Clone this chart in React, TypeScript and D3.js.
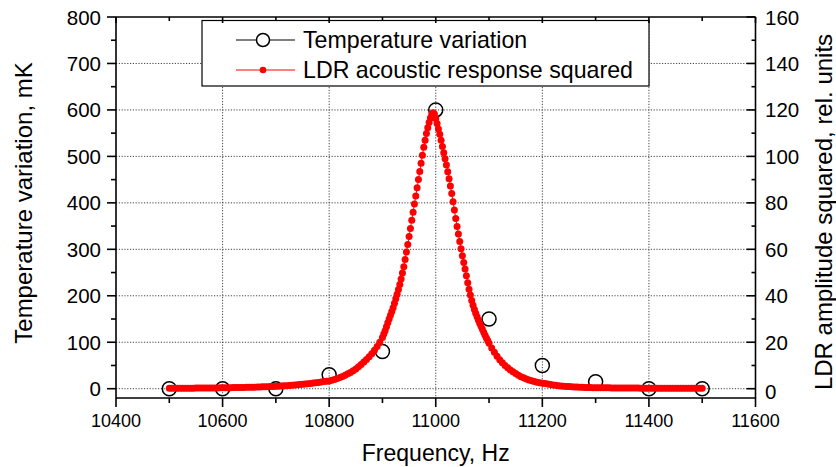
import React from 'react';
import * as d3 from 'd3';

// ---------- data ----------
const tempFreq = [10500, 10600, 10700, 10800, 10900, 11000, 11100, 11200, 11300, 11400, 11500];
const tempValues = [0, 0, 0, 30, 80, 600, 150, 50, 15, 0, 0];

// LDR response squared (rel. units), sampled on segments of the frequency grid
const ldrTailLeftFreq = d3.range(10500, 10800, 5);
const ldrTailLeft = [
  0.2, 0.2, 0.2, 0.2, 0.2, 0.2, 0.2, 0.22, 0.24, 0.25,
  0.26, 0.27, 0.28, 0.29, 0.3, 0.31, 0.32, 0.33, 0.35, 0.37,
  0.4, 0.41, 0.43, 0.45, 0.47, 0.49, 0.51, 0.53, 0.56, 0.59,
  0.62, 0.65, 0.68, 0.72, 0.76, 0.8, 0.84, 0.88, 0.93, 0.98,
  1.03, 1.09, 1.15, 1.22, 1.3, 1.39, 1.48, 1.58, 1.68, 1.79,
  1.9, 2.02, 2.14, 2.27, 2.41, 2.56, 2.72, 2.89, 3.06, 3.2,
];
const ldrRiseLeftFreq = d3.range(10800, 10900, 5);
const ldrRiseLeft = [
  3.3, 3.6, 4.0, 4.4, 4.8, 5.3, 5.8, 6.4, 7.0, 7.7,
  8.5, 9.4, 10.4, 11.5, 12.6, 13.8, 15.1, 16.6, 18.2, 20.0,
];
const ldrPeakFreq = d3.range(10900, 11100, 2.5);
const ldrPeak = [
  22.0, 23.5, 25.0, 26.7, 28.4, 30.0, 31.6, 33.2, 34.9, 36.8,
  38.7, 40.7, 42.7, 44.9, 47.2, 49.8, 52.5, 55.6, 58.8, 62.1,
  65.5, 69.0, 72.5, 76.0, 79.5, 83.0, 86.5, 90.0, 93.5, 97.0,
  100.5, 103.9, 107.0, 109.8, 112.3, 114.6, 116.5, 118.0, 118.8, 118.2,
  116.3, 114.2, 111.8, 109.5, 107.0, 104.3, 101.6, 99.0, 96.3, 93.4,
  90.4, 87.3, 84.0, 80.5, 76.9, 73.3, 69.8, 66.6, 63.4, 60.2,
  57.2, 54.3, 51.5, 48.6, 45.6, 42.8, 40.3, 38.0, 35.9, 34.1,
  32.5, 31.0, 29.6, 28.2, 26.9, 25.6, 24.3, 23.0, 21.8, 20.7,
];
const ldrFallRightFreq = d3.range(11100, 11200, 5);
const ldrFallRight = [
  19.6, 17.5, 15.7, 14.0, 12.5, 11.2, 10.0, 9.0, 8.1, 7.3,
  6.5, 5.8, 5.2, 4.7, 4.2, 3.8, 3.4, 3.1, 2.8, 2.6,
];
const ldrTailRightFreq = d3.range(11200, 11500.1, 5);
const ldrTailRight = [
  2.4, 2.2, 2.0, 1.8, 1.62, 1.46, 1.32, 1.2, 1.08, 0.98,
  0.9, 0.83, 0.76, 0.7, 0.65, 0.6, 0.56, 0.52, 0.49, 0.46,
  0.44, 0.42, 0.4, 0.38, 0.37, 0.36, 0.35, 0.34, 0.33, 0.32,
  0.31, 0.3, 0.29, 0.28, 0.27, 0.26, 0.26, 0.25, 0.25, 0.24,
  0.24, 0.23, 0.23, 0.22, 0.22, 0.22, 0.21, 0.21, 0.21, 0.2,
  0.2, 0.2, 0.2, 0.2, 0.2, 0.2, 0.2, 0.2, 0.2, 0.2,
  0.2,
];

const xTicks = [10400, 10600, 10800, 11000, 11200, 11400, 11600];
const xMinorTicks = [10500, 10700, 10900, 11100, 11300, 11500];
const yLeftTicks = [0, 100, 200, 300, 400, 500, 600, 700, 800];
const yLeftMinor = [50, 150, 250, 350, 450, 550, 650, 750];
const yRightTicks = [0, 20, 40, 60, 80, 100, 120, 140, 160];
const yRightMinor = [10, 30, 50, 70, 90, 110, 130, 150];

const legendLabels = ['Temperature variation', 'LDR acoustic response squared'];
const xTitle = 'Frequency, Hz';
const yLeftTitle = 'Temperature variation, mK';
const yRightTitle = 'LDR amplitude squared, rel. units';

// ---------- layout ----------
const W = 836;
const H = 467;
const PL = 116;
const PR = 755.5;
const PT = 17;
const PB = 398;
const FONT = "'Liberation Sans', Arial, Helvetica, sans-serif";

function zip(fs: number[], vs: number[]) {
  const n = Math.min(fs.length, vs.length);
  const out: { f: number; v: number }[] = [];
  for (let i = 0; i < n; i++) out.push({ f: fs[i], v: vs[i] });
  return out;
}

export default function App() {
  const x = d3.scaleLinear().domain([10400, 11600]).range([PL, PR]);
  const yL = d3.scaleLinear().domain([-20, 800]).range([PB, PT]);
  const yR = d3.scaleLinear().domain([-4, 160]).range([PB, PT]);

  const ldr = [
    ...zip(ldrTailLeftFreq, ldrTailLeft),
    ...zip(ldrRiseLeftFreq, ldrRiseLeft),
    ...zip(ldrPeakFreq, ldrPeak),
    ...zip(ldrFallRightFreq, ldrFallRight),
    ...zip(ldrTailRightFreq, ldrTailRight),
  ];
  const temp = zip(tempFreq, tempValues);

  const ldrLine = d3
    .line<{ f: number; v: number }>()
    .x((d) => x(d.f))
    .y((d) => yR(d.v))(ldr) as string;

  const axisW = 1.6;
  const gridStyle = { stroke: '#444', strokeWidth: 1, strokeDasharray: '1.2,1.6' };

  return (
    <svg
      width={W}
      height={H}
      viewBox={`0 0 ${W} ${H}`}
      style={{ position: 'fixed', left: 0, top: 0, background: '#fff' }}
      fontFamily={FONT}
    >
      <rect x={0} y={0} width={W} height={H} fill="#fff" />

      {/* grid */}
      {xTicks
        .filter((t) => t > 10400 && t < 11600)
        .map((t) => (
          <line key={'gx' + t} x1={x(t)} x2={x(t)} y1={PT} y2={PB} {...gridStyle} />
        ))}
      {yLeftTicks
        .filter((t) => t < 800)
        .map((t) => (
          <line key={'gy' + t} x1={PL} x2={PR} y1={yL(t)} y2={yL(t)} {...gridStyle} />
        ))}

      {/* legend */}
      <g>
        <rect x={202} y={20.5} width={447} height={65.5} fill="#fff" stroke="#000" strokeWidth={1.2} />
        <line x1={236} x2={295} y1={40} y2={40} stroke="#000" strokeWidth={1} />
        <circle cx={263} cy={40} r={6.5} fill="#fff" stroke="#000" strokeWidth={1.5} />
        <text x={303} y={40} fontSize={23.2} dominantBaseline="central" fill="#000">
          {legendLabels[0]}
        </text>
        <line x1={236} x2={295} y1={70} y2={70} stroke="#ff0000" strokeWidth={1} />
        <circle cx={263} cy={70} r={3.3} fill="#ff0000" />
        <text x={303} y={70} fontSize={23.2} dominantBaseline="central" fill="#000">
          {legendLabels[1]}
        </text>
      </g>

      {/* temperature circles */}
      {temp.map((d) => (
        <circle
          key={'t' + d.f}
          cx={x(d.f)}
          cy={yL(d.v)}
          r={7}
          fill="none"
          stroke="#000"
          strokeWidth={1.5}
        />
      ))}

      {/* LDR curve */}
      <path d={ldrLine} fill="none" stroke="#ff0000" strokeWidth={1} />
      {ldr.map((d, i) => (
        <circle key={'l' + i} cx={x(d.f)} cy={yR(d.v)} r={3.5} fill="#ff0000" />
      ))}

      {/* axes frame */}
      <g stroke="#000" strokeWidth={axisW} fill="none">
        <line x1={PL} x2={PR} y1={PB} y2={PB} />
        <line x1={PL} x2={PR} y1={PT} y2={PT} />
        <line x1={PL} x2={PL} y1={PT} y2={PB} />
        <line x1={PR} x2={PR} y1={PT} y2={PB} />
        {/* bottom ticks (outward) */}
        {xTicks.map((t) => (
          <line key={'bx' + t} x1={x(t)} x2={x(t)} y1={PB} y2={PB + 9} />
        ))}
        {xMinorTicks.map((t) => (
          <line key={'bxm' + t} x1={x(t)} x2={x(t)} y1={PB} y2={PB + 5} />
        ))}
        {/* top ticks (inward) */}
        {xTicks.map((t) => (
          <line key={'tx' + t} x1={x(t)} x2={x(t)} y1={PT} y2={PT + 6} />
        ))}
        {xMinorTicks.map((t) => (
          <line key={'txm' + t} x1={x(t)} x2={x(t)} y1={PT} y2={PT + 4} />
        ))}
        {/* left ticks (outward) */}
        {yLeftTicks.map((t) => (
          <line key={'ly' + t} x1={PL - 9} x2={PL} y1={yL(t)} y2={yL(t)} />
        ))}
        {yLeftMinor.map((t) => (
          <line key={'lym' + t} x1={PL - 5} x2={PL} y1={yL(t)} y2={yL(t)} />
        ))}
        {/* right ticks (inward) */}
        {yRightTicks.map((t) => (
          <line key={'ry' + t} x1={PR - 9} x2={PR} y1={yR(t)} y2={yR(t)} />
        ))}
        {yRightMinor.map((t) => (
          <line key={'rym' + t} x1={PR - 4} x2={PR} y1={yR(t)} y2={yR(t)} />
        ))}
      </g>

      {/* tick labels */}
      {xTicks.map((t) => (
        <text key={'xl' + t} x={x(t)} y={427} fontSize={18} textAnchor="middle" fill="#000">
          {t}
        </text>
      ))}
      {yLeftTicks.map((t) => (
        <text
          key={'yll' + t}
          x={101}
          y={yL(t)}
          fontSize={20.5}
          textAnchor="end"
          dominantBaseline="central"
          fill="#000"
        >
          {t}
        </text>
      ))}
      {yRightTicks.map((t) => (
        <text
          key={'yrl' + t}
          x={765}
          y={t === 0 ? yR(t) + 3 : yR(t)}
          fontSize={20.5}
          textAnchor="start"
          dominantBaseline="central"
          fill="#000"
        >
          {t}
        </text>
      ))}

      {/* axis titles */}
      <text x={(PL + PR) / 2} y={461} fontSize={23} textAnchor="middle" fill="#000">
        {xTitle}
      </text>
      <text
        transform={`translate(32, 203) rotate(-90)`}
        fontSize={24}
        textAnchor="middle"
        fill="#000"
      >
        {yLeftTitle}
      </text>
      <text
        transform={`translate(832, 212) rotate(-90)`}
        fontSize={24}
        textAnchor="middle"
        fill="#000"
      >
        {yRightTitle}
      </text>
    </svg>
  );
}
